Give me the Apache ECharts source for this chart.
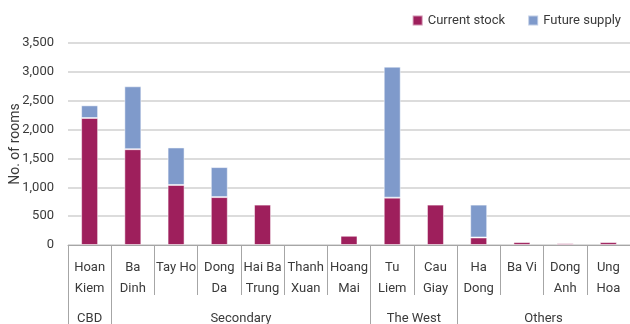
<!DOCTYPE html>
<html>
<head>
<meta charset="utf-8">
<script src="https://cdn.jsdelivr.net/npm/echarts@6/dist/echarts.min.js"></script>
<style>
	html, body { margin: 0; padding: 0; background: #fff; }
	#chart { width: 630px; height: 324px; }
</style>
</head>
<body>
<div id="chart"></div>
<script>
const districts = ['Hoan\nKiem', 'Ba\nDinh', 'Tay Ho', 'Dong\nDa', 'Hai Ba\nTrung', 'Thanh\nXuan', 'Hoang\nMai', 'Tu\nLiem', 'Cau\nGiay', 'Ha\nDong', 'Ba Vi', 'Dong\nAnh', 'Ung\nHoa']
const currentStock = [2200, 1660, 1040, 830, 700, 0, 160, 820, 700, 130, 50, 30, 50]
const futureSupply = [220, 1090, 650, 520, 0, 0, 0, 2270, 0, 570, 0, 0, 0]
const groupNames = ['CBD', 'Secondary', 'The West', 'Others']
const groupSizes = [1, 6, 2, 4]
const yTicks = [0, 500, 1000, 1500, 2000, 2500, 3000, 3500]

const fontFamily = 'Roboto'
const textColor = '#3a3a3a'

// group boundaries and centres on a 0..13 value scale
const groupEdges = [0]
const groupCentres = []
groupSizes.forEach((n) => {
	const start = groupEdges[groupEdges.length - 1]
	groupCentres.push(start + n / 2)
	groupEdges.push(start + n)
})

// empty stacks are not drawn at all
const noZero = (arr) => arr.map((v) => (v === 0 ? '-' : v))

const option = {
	animation: false,
	textStyle: { fontFamily: fontFamily },
	legend: {
		top: 9,
		right: 4,
		icon: 'rect',
		itemWidth: 10,
		itemHeight: 10,
		itemGap: 22,
		textStyle: { fontFamily: fontFamily, fontSize: 13, color: textColor },
		data: ['Current stock', 'Future supply'],
	},
	grid: {
		top: 43,
		left: 68,
		right: 0,
		bottom: 79,
		outerBoundsMode: 'none',
	},
	xAxis: [
		{
			type: 'category',
			data: districts,
			axisLine: { lineStyle: { color: '#a6a6a6', width: 1 } },
			axisTick: { show: true, interval: 0, length: 50, lineStyle: { color: '#a6a6a6' } },
			axisLabel: {
				interval: 0,
				margin: 12,
				fontSize: 13,
				lineHeight: 21,
				color: textColor,
				fontFamily: fontFamily,
			},
		},
		{
			type: 'value',
			position: 'bottom',
			min: 0,
			max: districts.length,
			axisLine: { show: false },
			splitLine: { show: false },
			axisTick: {
				show: true,
				length: 79,
				customValues: groupEdges,
				lineStyle: { color: '#a6a6a6' },
			},
			axisLabel: {
				margin: 67,
				fontSize: 13,
				color: textColor,
				fontFamily: fontFamily,
				customValues: groupCentres,
				formatter: (v) => {
					const i = groupCentres.indexOf(v)
					return i >= 0 ? groupNames[i] : ''
				},
			},
		},
	],
	yAxis: {
		type: 'value',
		min: yTicks[0],
		max: yTicks[yTicks.length - 1],
		interval: 500,
		name: 'No. of rooms',
		nameLocation: 'middle',
		nameGap: 46,
		nameMoveOverlap: false,
		nameTextStyle: { fontSize: 14, color: textColor, fontFamily: fontFamily },
		axisLine: { show: false },
		axisTick: { show: false },
		axisLabel: {
			margin: 14,
			fontSize: 13,
			color: textColor,
			fontFamily: fontFamily,
			formatter: (v) => v.toLocaleString('en-US'),
		},
		splitLine: { lineStyle: { color: '#dcdcdc', width: 2 } },
	},
	series: [
		{
			name: 'Current stock',
			type: 'bar',
			stack: 'rooms',
			barWidth: 17,
			data: noZero(currentStock),
			itemStyle: { color: '#9e1f5c', borderColor: 'rgba(255,255,255,0.5)', borderWidth: 1 },
		},
		{
			name: 'Future supply',
			type: 'bar',
			stack: 'rooms',
			barWidth: 17,
			data: noZero(futureSupply),
			itemStyle: { color: '#7f9acb', borderColor: 'rgba(255,255,255,0.5)', borderWidth: 1 },
		},
	],
}

const myChart = echarts.init(document.getElementById('chart'))
myChart.setOption(option)
</script>
</body>
</html>
